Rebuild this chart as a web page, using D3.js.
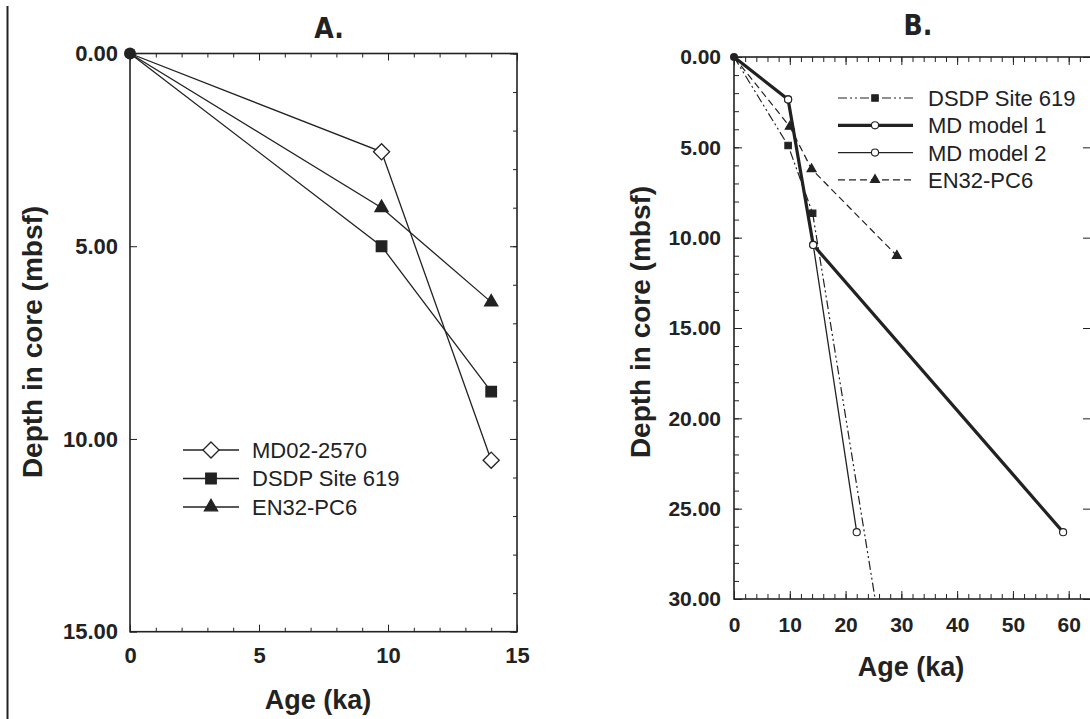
<!DOCTYPE html>
<html>
<head>
<meta charset="utf-8">
<script src="https://cdn.jsdelivr.net/npm/d3@7"></script>
<style>
  body { margin: 0; background: #fff; }
  text { font-family: "Liberation Sans", Arial, sans-serif; fill: #222; }
</style>
</head>
<body>
<script>
// ---- panel A data ----
const seriesA = ["MD02-2570", "DSDP Site 619", "EN32-PC6"];
const ageA = [0, 9.75, 14];
const depthA_MD = [0, 2.55, 10.55];
const depthA_DSDP = [0, 5.0, 8.77];
const depthA_EN = [0, 4.0, 6.45];
const ticksAx = [0, 5, 10, 15];
const ticksAy = [0, 5, 10, 15];

// ---- panel B data ----
const seriesB = ["DSDP Site 619", "MD model 1", "MD model 2", "EN32-PC6"];
const ageB_DSDP = [0, 9.7, 14.1, 25.3];
const depthB_DSDP = [0, 4.9, 8.65, 30];
const ageB_MD1 = [0, 9.7, 14.2, 59.0];
const depthB_MD1 = [0, 2.35, 10.4, 26.3];
const ageB_MD2 = [0, 9.7, 14.2, 22.0];
const depthB_MD2 = [0, 2.35, 10.4, 26.3];
const ageB_EN = [0, 10.0, 13.9, 29.2];
const depthB_EN = [0, 3.85, 6.2, 11.0];
const ticksBx = [0, 10, 20, 30, 40, 50, 60];
const ticksBy = [0, 5, 10, 15, 20, 25, 30];

const ink = "#222";
const zip = (xs, ys) => xs.map((x, i) => [x, ys[i]]);

// rotated square marker
const diamond = {
  draw(ctx, size) {
    const r = Math.sqrt(size / 2);
    ctx.moveTo(0, -r); ctx.lineTo(r, 0); ctx.lineTo(0, r); ctx.lineTo(-r, 0); ctx.closePath();
  }
};

const svg = d3.select("body").append("svg").attr("width", 1090).attr("height", 719);

// page edge line on the left
svg.append("line").attr("x1", 7.5).attr("x2", 7.5).attr("y1", 6).attr("y2", 719)
  .attr("stroke", ink).attr("stroke-width", 2);

function frameAndAxes(x, y, o) {
  const g = svg.append("g");
  const [x0, x1] = x.range(), [y0, y1] = y.range();

  // minor ticks
  const minor = (axis, tr, vals, len) => g.append("g").attr("transform", tr)
    .call(axis.tickValues(vals).tickFormat("").tickSizeInner(-len).tickSizeOuter(0))
    .call(s => s.select(".domain").remove())
    .selectAll("line").attr("stroke", ink).attr("stroke-width", 1);

  minor(d3.axisBottom(x), `translate(0,${y1})`, o.xMinor, o.minorLen);
  minor(d3.axisTop(x), `translate(0,${y0})`, o.xMinor, o.minorLen);
  if (o.yMinorLeft) minor(d3.axisLeft(y), `translate(${x0},0)`, o.yMinorLeft, o.minorLen);
  if (o.yMinorRight) minor(d3.axisRight(y), `translate(${x1},0)`, o.yMinorRight, o.minorLen);

  // major ticks + labels
  const bottom = g.append("g").attr("transform", `translate(0,${y1})`)
    .call(d3.axisBottom(x).tickValues(o.xTicks).tickFormat(d3.format("d"))
      .tickSizeInner(-o.majorLen).tickSizeOuter(0).tickPadding(o.xPad));
  const left = g.append("g").attr("transform", `translate(${x0},0)`)
    .call(d3.axisLeft(y).tickValues(o.yTicks).tickFormat(d3.format(".2f"))
      .tickSizeInner(-o.majorLen).tickSizeOuter(0).tickPadding(o.yPad));
  g.append("g").attr("transform", `translate(0,${y0})`)
    .call(d3.axisTop(x).tickValues(o.xTicks).tickFormat("").tickSizeInner(-o.majorLen).tickSizeOuter(0));
  g.append("g").attr("transform", `translate(${x1},0)`)
    .call(d3.axisRight(y).tickValues(o.yTicks).tickFormat("").tickSizeInner(-o.majorLen).tickSizeOuter(0));

  g.selectAll(".domain").remove();
  g.selectAll("line").attr("stroke", ink);
  bottom.selectAll("text").attr("font-size", o.xFont);
  left.selectAll("text").attr("font-size", o.yFont);
  [bottom, left].forEach(a => a.selectAll("text")
    .attr("font-weight", "bold").attr("fill", ink)
    .style("font-family", "'Liberation Sans', Arial, sans-serif"));

  g.append("rect").attr("x", x0).attr("y", y0).attr("width", x1 - x0).attr("height", y1 - y0)
    .attr("fill", "none").attr("stroke", ink).attr("stroke-width", 1.6);
}

function titles(o) {
  svg.append("text").attr("x", o.titleX).attr("y", o.titleY).attr("text-anchor", "middle")
    .attr("font-size", 28).attr("font-weight", "bold")
    .style("font-family", "'Liberation Sans Narrow', 'DejaVu Sans Condensed', sans-serif")
    .style("font-stretch", "condensed").text(o.title);
  svg.append("text").attr("x", o.xLabX).attr("y", o.xLabY).attr("text-anchor", "middle")
    .attr("font-size", 27).attr("font-weight", "bold").text("Age (ka)");
  svg.append("text").attr("transform", `translate(${o.yLabX},${o.yLabY}) rotate(-90)`)
    .attr("text-anchor", "middle").attr("font-size", 28).attr("font-weight", "bold")
    .text("Depth in core (mbsf)");
}

// ================= Panel A =================
const xA = d3.scaleLinear().domain([0, 15]).range([130, 517]);
const yA = d3.scaleLinear().domain([0, 15]).range([53.5, 631.7]);

frameAndAxes(xA, yA, {
  xTicks: ticksAx, yTicks: ticksAy,
  xMinor: d3.range(0, 15.01, 1), yMinorRight: d3.range(0, 15.01, 1),
  majorLen: 7, minorLen: 4, xPad: 16, yPad: 12, xFont: 22, yFont: 22
});
titles({ title: "A.", titleX: 329, titleY: 38, xLabX: 318, xLabY: 709, yLabX: 42, yLabY: 342 });

const lineA = d3.line().x(d => xA(d[0])).y(d => yA(d[1]));
const dataA = [
  { name: seriesA[0], pts: zip(ageA, depthA_MD), sym: diamond, size: 130, fill: "#fff" },
  { name: seriesA[1], pts: zip(ageA, depthA_DSDP), sym: d3.symbolSquare, size: 110, fill: ink },
  { name: seriesA[2], pts: zip(ageA, depthA_EN), sym: d3.symbolTriangle, size: 75, fill: ink }
];
const gA = svg.append("g");
dataA.forEach(s => {
  gA.append("path").attr("d", lineA(s.pts)).attr("fill", "none")
    .attr("stroke", ink).attr("stroke-width", 1.3);
});
dataA.forEach(s => {
  gA.selectAll(null).data(s.pts.slice(1)).enter().append("path")
    .attr("transform", d => `translate(${xA(d[0])},${yA(d[1])})`)
    .attr("d", d3.symbol().type(s.sym).size(s.size))
    .attr("fill", s.fill).attr("stroke", ink).attr("stroke-width", 1.3);
});
gA.append("circle").attr("cx", xA(0)).attr("cy", yA(0)).attr("r", 6).attr("fill", ink);

// legend A
const legA = svg.append("g").selectAll("g").data(dataA).enter().append("g")
  .attr("transform", (d, i) => `translate(183,${450 + i * 28.5})`);
legA.append("line").attr("x1", 0).attr("x2", 56).attr("stroke", ink).attr("stroke-width", 1.3);
legA.append("path").attr("transform", "translate(28,0)")
  .attr("d", d => d3.symbol().type(d.sym).size(d.size)())
  .attr("fill", d => d.fill).attr("stroke", ink).attr("stroke-width", 1.3);
legA.append("text").attr("x", 69).attr("dy", "0.36em").attr("font-size", 22).text(d => d.name);

// ================= Panel B =================
// frame runs to x = 64, just past the right edge of the page
const xB = d3.scaleLinear().domain([0, 64]).range([734, 1091]);
const yB = d3.scaleLinear().domain([0, 30]).range([57, 599]);

frameAndAxes(xB, yB, {
  xTicks: ticksBx, yTicks: ticksBy,
  xMinor: d3.range(0, 64.01, 2), yMinorLeft: d3.range(0, 30.01, 1),
  majorLen: 8, minorLen: 5, xPad: 18, yPad: 13, xFont: 21, yFont: 21
});
titles({ title: "B.", titleX: 918, titleY: 35, xLabX: 911, xLabY: 676, yLabX: 650, yLabY: 322 });

svg.append("clipPath").attr("id", "clipB").append("rect")
  .attr("x", 734).attr("y", 57).attr("width", 357).attr("height", 542);

const lineB = d3.line().x(d => xB(d[0])).y(d => yB(d[1]));
const dataB = [
  { name: seriesB[0], pts: zip(ageB_DSDP, depthB_DSDP), sym: d3.symbolSquare, size: 42, fill: ink, w: 1.2, dash: "9,3,2,3,2,3" },
  { name: seriesB[1], pts: zip(ageB_MD1, depthB_MD1), sym: d3.symbolCircle, size: 40, fill: "#fff", w: 3.2, dash: null },
  { name: seriesB[2], pts: zip(ageB_MD2, depthB_MD2), sym: d3.symbolCircle, size: 40, fill: "#fff", w: 1.3, dash: null },
  { name: seriesB[3], pts: zip(ageB_EN, depthB_EN), sym: d3.symbolTriangle, size: 36, fill: ink, w: 1.2, dash: "7,4" }
];
const gB = svg.append("g").attr("clip-path", "url(#clipB)");
dataB.forEach(s => {
  gB.append("path").attr("d", lineB(s.pts)).attr("fill", "none")
    .attr("stroke", ink).attr("stroke-width", s.w).attr("stroke-dasharray", s.dash);
});
dataB.forEach(s => {
  svg.append("g").selectAll("path").data(s.pts.slice(1).filter(d => d[1] < 30)).enter().append("path")
    .attr("transform", d => `translate(${xB(d[0])},${yB(d[1])})`)
    .attr("d", d3.symbol().type(s.sym).size(s.size))
    .attr("fill", s.fill).attr("stroke", ink).attr("stroke-width", 1.1);
});
svg.append("circle").attr("cx", xB(0)).attr("cy", yB(0)).attr("r", 4).attr("fill", ink);

// legend B
const legB = svg.append("g").selectAll("g").data(dataB).enter().append("g")
  .attr("transform", (d, i) => `translate(838,${98 + i * 27.3})`);
legB.append("line").attr("x1", 0).attr("x2", 75).attr("stroke", ink)
  .attr("stroke-width", d => d.w).attr("stroke-dasharray", d => d.dash);
legB.append("path").attr("transform", "translate(37,0)")
  .attr("d", d => d3.symbol().type(d.sym).size(d.size)())
  .attr("fill", d => d.fill).attr("stroke", ink).attr("stroke-width", 1.1);
legB.append("text").attr("x", 90).attr("dy", "0.36em").attr("font-size", 22).text(d => d.name);
</script>
</body>
</html>
